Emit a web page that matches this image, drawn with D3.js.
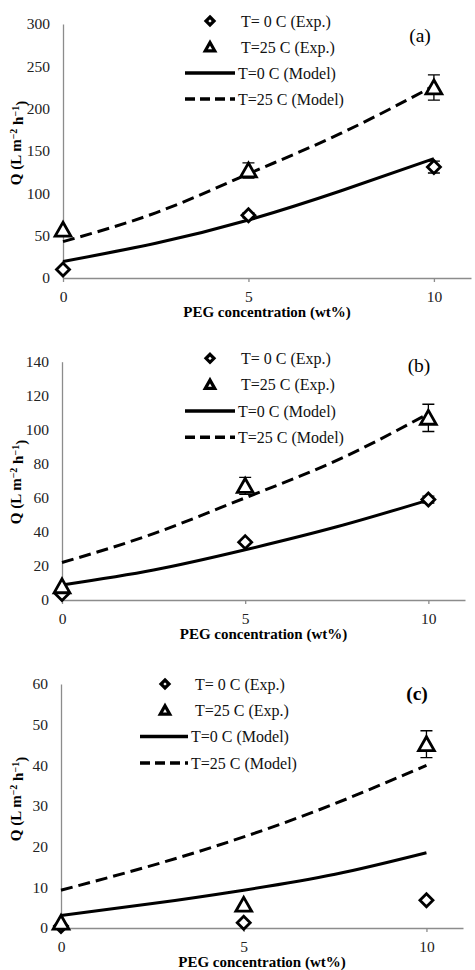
<!DOCTYPE html>
<html lang="en">
<head>
    <meta charset="UTF-8">
    <title>Q vs PEG concentration</title>
    <style>
        body { margin: 0; background: #fff; }
        svg { display: block; font-family: "Liberation Serif", "Times New Roman", serif; }
        .axis path, .axis line { stroke: #8c8c8c; stroke-width: 1.3px; }
        .axis text { font-size: 15.5px; fill: #222; font-family: "Liberation Serif", serif; }
    </style>
</head>
<body>
<script src="https://cdnjs.cloudflare.com/ajax/libs/d3/7.8.5/d3.min.js"></script>
<script>
"use strict";

// data
var pegConc = [0, 5, 10];
var modelConc = [0, 2.5, 5, 7.5, 10];
var xTicks = [0, 5, 10];
var legendLabels = ["T= 0 C (Exp.)", "T=25 C (Exp.)", "T=0 C (Model)", "T=25 C (Model)"];
var panelLabels = ["(a)", "(b)", "(c)"];

var yTicksA = [0, 50, 100, 150, 200, 250, 300];
var expT0A = [10, 74, 131];
var errT0A = [0, 3, 7];
var expT25A = [57, 127, 225];
var errT25A = [0, 9, 15];
var modelT0A = [19.5, 41, 68.5, 103, 141];
var modelT25A = [43, 77, 123, 171, 227];

var yTicksB = [0, 20, 40, 60, 80, 100, 120, 140];
var expT0B = [3.5, 34, 59];
var errT0B = [0, 0, 2];
var expT25B = [8, 67, 107];
var errT25B = [0, 5, 8];
var modelT0B = [8.8, 17.6, 29.5, 43, 58.7];
var modelT25B = [22, 39, 60, 82, 109.5];

var yTicksC = [0, 10, 20, 30, 40, 50, 60];
var expT0C = [0.5, 1.3, 6.8];
var errT0C = [0, 0, 0];
var expT25C = [1.3, 5.7, 45.2];
var errT25C = [0, 0, 3.3];
var modelT0C = [3.1, 6.0, 9.3, 13.2, 18.5];
var modelT25C = [9.3, 15.4, 22.4, 30.6, 40];

var panels = [
    { label: panelLabels[0], yTicks: yTicksA, exp0: expT0A, err0: errT0A, exp25: expT25A, err25: errT25A, mod0: modelT0A, mod25: modelT25A,
      left: 63, right: 471, top: 24, bottom: 278, yLabelY: 143, legX: 210, legLine: [185, 235], legTextX: 241, legY: 21, legStep: 26,
      tagX: 420, tagY: 35, tagBold: false },
    { label: panelLabels[1], yTicks: yTicksB, exp0: expT0B, err0: errT0B, exp25: expT25B, err25: errT25B, mod0: modelT0B, mod25: modelT25B,
      left: 62, right: 465, top: 361.7, bottom: 600, yLabelY: 482, legX: 210, legLine: [185, 235], legTextX: 241, legY: 358.3, legStep: 26.3,
      tagX: 419, tagY: 365, tagBold: false },
    { label: panelLabels[2], yTicks: yTicksC, exp0: expT0C, err0: errT0C, exp25: expT25C, err25: errT25C, mod0: modelT0C, mod25: modelT25C,
      left: 61, right: 463, top: 684, bottom: 928, yLabelY: 799, legX: 165, legLine: [140, 188], legTextX: 195, legY: 684, legStep: 26.3,
      tagX: 417, tagY: 693, tagBold: true }
];

var svg = d3.select("body").append("svg")
    .attr("width", 475)
    .attr("height", 970);

function diamondPath(s) {
    return "M0," + (-s) + "L" + s + ",0L0," + s + "L" + (-s) + ",0Z";
}
function trianglePath(s) {
    return "M0," + (-s) + "L" + (s * 1.05) + "," + (s * 0.85) + "L" + (-s * 1.05) + "," + (s * 0.85) + "Z";
}

function drawPanel(p) {
    var x = d3.scaleLinear().domain([0, 11]).range([p.left, p.right]);
    var y = d3.scaleLinear().domain([0, d3.max(p.yTicks)]).range([p.bottom, p.top]);
    var g = svg.append("g");

    g.append("g")
        .attr("class", "axis")
        .attr("transform", "translate(0," + p.bottom + ")")
        .call(d3.axisBottom(x).tickValues(xTicks).tickSize(4).tickPadding(9).tickSizeOuter(0));

    g.append("g")
        .attr("class", "axis")
        .attr("transform", "translate(" + p.left + ",0)")
        .call(d3.axisLeft(y).tickValues(p.yTicks).tickSize(0).tickPadding(13).tickSizeOuter(0));

    // axis titles
    g.append("text")
        .attr("x", (p.left + p.right) / 2)
        .attr("y", p.bottom + 34)
        .attr("dy", "0.35em")
        .attr("text-anchor", "middle")
        .style("font-weight", "bold")
        .style("font-size", "15px")
        .text("PEG concentration (wt%)");

    var yl = g.append("text")
        .attr("transform", "translate(21," + p.yLabelY + ") rotate(-90)")
        .attr("text-anchor", "middle")
        .style("font-weight", "bold")
        .style("font-size", "15px");
    yl.append("tspan").text("Q (L m");
    yl.append("tspan").attr("dy", "-0.45em").style("font-size", "10px").text("\u22122");
    yl.append("tspan").attr("dy", "0.45em").text(" h");
    yl.append("tspan").attr("dy", "-0.45em").style("font-size", "10px").text("\u22121");
    yl.append("tspan").attr("dy", "0.45em").text(")");

    // model curves
    var line = d3.line()
        .x(function(d) { return x(d[0]); })
        .y(function(d) { return y(d[1]); })
        .curve(d3.curveNatural);

    g.append("path")
        .datum(d3.zip(modelConc, p.mod0))
        .attr("d", line)
        .attr("fill", "none")
        .attr("stroke", "#000")
        .attr("stroke-width", 3);

    g.append("path")
        .datum(d3.zip(modelConc, p.mod25))
        .attr("d", line)
        .attr("fill", "none")
        .attr("stroke", "#000")
        .attr("stroke-width", 3)
        .attr("stroke-dasharray", "12,6");

    // error bars + markers
    function series(vals, errs, shape) {
        var pts = d3.zip(pegConc, vals, errs);
        pts.forEach(function(d) {
            if (d[2] <= 0) return;
            var cx = x(d[0]);
            g.append("path")
                .attr("d", "M" + (cx - 6) + "," + y(d[1] + d[2]) + "H" + (cx + 6) +
                    "M" + cx + "," + y(d[1] + d[2]) + "V" + y(d[1] - d[2]) +
                    "M" + (cx - 6) + "," + y(d[1] - d[2]) + "H" + (cx + 6))
                .attr("fill", "none")
                .attr("stroke", "#000")
                .attr("stroke-width", 1.3);
        });
        g.selectAll(null)
            .data(pts)
            .enter().append("path")
            .attr("transform", function(d) { return "translate(" + x(d[0]) + "," + y(d[1]) + ")"; })
            .attr("d", shape)
            .attr("fill", "#fff")
            .attr("stroke", "#000")
            .attr("stroke-width", 2.8)
            .attr("stroke-linejoin", "miter");
    }
    series(p.exp0, p.err0, diamondPath(6.5));
    series(p.exp25, p.err25, trianglePath(7.5));

    // legend
    var legend = g.append("g");
    legend.append("path")
        .attr("transform", "translate(" + p.legX + "," + p.legY + ")")
        .attr("d", diamondPath(4))
        .attr("fill", "#fff").attr("stroke", "#000").attr("stroke-width", 3.2);
    legend.append("path")
        .attr("transform", "translate(" + p.legX + "," + (p.legY + p.legStep) + ")")
        .attr("d", trianglePath(4.5))
        .attr("fill", "#fff").attr("stroke", "#000").attr("stroke-width", 3.2);
    legend.append("line")
        .attr("x1", p.legLine[0]).attr("x2", p.legLine[1])
        .attr("y1", p.legY + 2 * p.legStep).attr("y2", p.legY + 2 * p.legStep)
        .attr("stroke", "#000").attr("stroke-width", 3.5);
    legend.append("line")
        .attr("x1", p.legLine[0]).attr("x2", p.legLine[1])
        .attr("y1", p.legY + 3 * p.legStep).attr("y2", p.legY + 3 * p.legStep)
        .attr("stroke", "#000").attr("stroke-width", 3.5)
        .attr("stroke-dasharray", "10,5");
    legend.selectAll("text")
        .data(legendLabels)
        .enter().append("text")
        .attr("x", function(d, i) { return i < 2 ? p.legTextX : p.legLine[1] + 3; })
        .attr("y", function(d, i) { return p.legY + i * p.legStep; })
        .attr("dy", "0.35em")
        .style("font-size", "16px")
        .style("fill", "#111")
        .text(function(d) { return d; });

    g.append("text")
        .attr("x", p.tagX)
        .attr("y", p.tagY)
        .attr("dy", "0.35em")
        .attr("text-anchor", "middle")
        .style("font-size", "19.5px")
        .style("font-weight", p.tagBold ? "bold" : "normal")
        .text(p.label);
}

panels.forEach(drawPanel);
</script>
</body>
</html>
